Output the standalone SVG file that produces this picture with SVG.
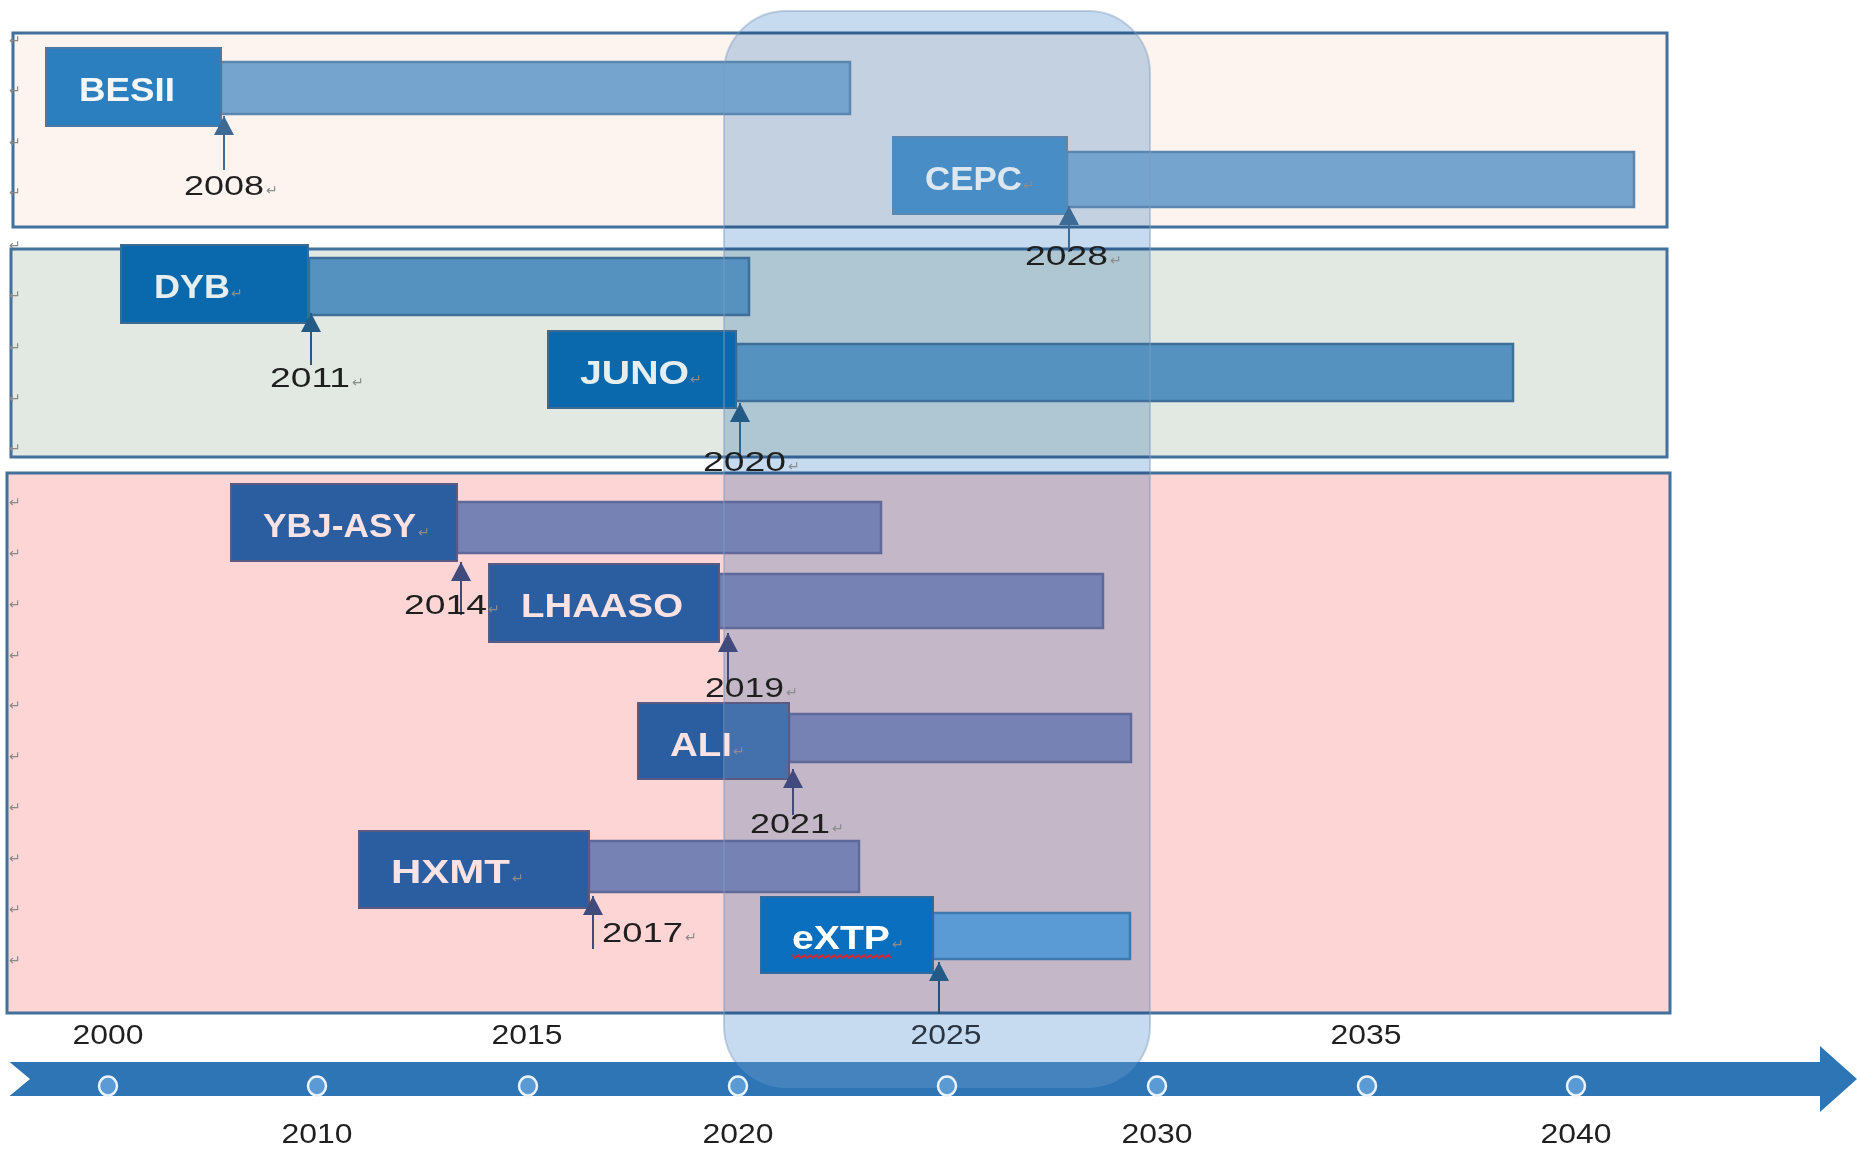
<svg xmlns="http://www.w3.org/2000/svg" width="1857" height="1149" viewBox="0 0 1857 1149">
<style>
.panel{stroke:#41719C;stroke-width:3}
.hl{fill:#C6DBEF;mix-blend-mode:multiply}
.bx{stroke-width:2}
.bar{stroke-width:2.5}
.lbl{font-family:"Liberation Sans",Arial,sans-serif;font-weight:bold;font-size:33px}
.yr{font-family:"Liberation Sans",Arial,sans-serif;font-size:28px;fill:#1F1F1F}
.pm{font-family:"DejaVu Sans",sans-serif;font-size:14px;fill:#8C8C8C}
.edge{font-family:"DejaVu Sans",sans-serif;font-size:14px;fill:#8A8A8A}
.conn{stroke-width:2;fill:none}
</style>
<defs>
<marker id="ahA" markerUnits="userSpaceOnUse" markerWidth="22" markerHeight="22" refX="19" refY="10" orient="auto"><path d="M0,0 L19,10 L0,20 Z" fill="#3D6B96"/></marker>
<marker id="ahB" markerUnits="userSpaceOnUse" markerWidth="22" markerHeight="22" refX="19" refY="10" orient="auto"><path d="M0,0 L19,10 L0,20 Z" fill="#235A86"/></marker>
<marker id="ahC" markerUnits="userSpaceOnUse" markerWidth="22" markerHeight="22" refX="19" refY="10" orient="auto"><path d="M0,0 L19,10 L0,20 Z" fill="#404A7C"/></marker>
<clipPath id="axisClip"><path d="M9.5,1062 L1820,1062 L1820,1046 L1857,1079 L1820,1112 L1820,1096 L9.5,1096 L30,1079 Z"/></clipPath>
</defs>
<rect width="1857" height="1149" fill="#FFFFFF"/>

<g id="panels">
<rect class="panel" x="13" y="33" width="1654" height="194" fill="#FDF4EF"/>
<rect class="panel" x="11" y="249" width="1656" height="208" fill="#E2E8E2"/>
<rect class="panel" x="7" y="473" width="1663" height="540" fill="#FDD5D5"/>
</g>

<rect id="highlight" class="hl" x="724" y="11" width="426" height="1077" rx="62" ry="62"/>

<g id="edge-marks">
<text class="edge" x="9" y="45">↵</text><text class="edge" x="9" y="95">↵</text><text class="edge" x="9" y="147">↵</text><text class="edge" x="9" y="197">↵</text>
<text class="edge" x="9" y="250">↵</text><text class="edge" x="9" y="300">↵</text><text class="edge" x="9" y="352">↵</text><text class="edge" x="9" y="403">↵</text><text class="edge" x="9" y="453">↵</text>
<text class="edge" x="9" y="507" fill="#9A6A6A">↵</text><text class="edge" x="9" y="558" fill="#9A6A6A">↵</text><text class="edge" x="9" y="609" fill="#9A6A6A">↵</text><text class="edge" x="9" y="660" fill="#9A6A6A">↵</text><text class="edge" x="9" y="710" fill="#9A6A6A">↵</text><text class="edge" x="9" y="761" fill="#9A6A6A">↵</text><text class="edge" x="9" y="812" fill="#9A6A6A">↵</text><text class="edge" x="9" y="863" fill="#9A6A6A">↵</text><text class="edge" x="9" y="914" fill="#9A6A6A">↵</text><text class="edge" x="9" y="965" fill="#9A6A6A">↵</text>
</g>

<g id="node-BESII">
<rect class="bar" x="221" y="62" width="629" height="52" fill="#75A4CF" stroke="#5B86B0"/>
<rect class="bx" x="46" y="48" width="175" height="78" fill="#2C7FBE" stroke="#4A78A8"/>
<text class="lbl" x="79" y="101" textLength="96" lengthAdjust="spacingAndGlyphs" fill="#F4F6F8">BESII</text>
</g>

<g id="node-CEPC">
<rect class="bar" x="1067" y="152" width="567" height="55" fill="#75A4CF" stroke="#5B86B0"/>
<rect class="bx" x="893" y="137" width="174" height="77" fill="#498DC7" stroke="#5C88B0"/>
<text class="lbl" x="925" y="190" textLength="97" lengthAdjust="spacingAndGlyphs" fill="#DCE7F0">CEPC</text>
<text class="pm" x="1023" y="190" fill="#9AB0C4">↵</text>
</g>

<g id="node-DYB">
<rect class="bar" x="309" y="258" width="440" height="57" fill="#5592C0" stroke="#3F6F98"/>
<rect class="bx" x="121" y="245" width="187" height="78" fill="#0A69AD" stroke="#3D6A90"/>
<text class="lbl" x="154" y="298" textLength="76" lengthAdjust="spacingAndGlyphs" fill="#E6EEF0">DYB</text>
<text class="pm" x="231" y="298" fill="#7A8E9E">↵</text>
</g>

<g id="node-JUNO">
<rect class="bar" x="736" y="344" width="777" height="57" fill="#5592C0" stroke="#3F6F98"/>
<rect class="bx" x="548" y="331" width="188" height="77" fill="#0A69AD" stroke="#3D6A90"/>
<text class="lbl" x="580" y="384" textLength="109" lengthAdjust="spacingAndGlyphs" fill="#E6EEF0">JUNO</text>
<text class="pm" x="690" y="384" fill="#7A8E9E">↵</text>
</g>

<g id="node-YBJ-ASY">
<rect class="bar" x="457" y="502" width="424" height="51" fill="#7582B3" stroke="#5F6A9A"/>
<rect class="bx" x="231" y="484" width="226" height="77" fill="#2B5EA0" stroke="#5A5A85"/>
<text class="lbl" x="263" y="537" textLength="153" lengthAdjust="spacingAndGlyphs" fill="#FCE2E2">YBJ-ASY</text>
<text class="pm" x="418" y="537" fill="#9A7A80">↵</text>
</g>

<g id="node-LHAASO">
<rect class="bar" x="719" y="574" width="384" height="54" fill="#7582B3" stroke="#5F6A9A"/>
<rect class="bx" x="489" y="564" width="230" height="78" fill="#2B5EA0" stroke="#5A5A85"/>
<text class="lbl" x="521" y="617" textLength="162" lengthAdjust="spacingAndGlyphs" fill="#FCE2E2">LHAASO</text>
</g>

<g id="node-ALI">
<rect class="bar" x="789" y="714" width="342" height="48" fill="#7582B3" stroke="#5F6A9A"/>
<rect class="bx" x="638" y="703" width="151" height="76" fill="#2B5EA0" stroke="#5A5A85"/>
<rect x="725" y="704" width="63" height="74" fill="#FFFFFF" opacity="0.12"/>
<text class="lbl" x="670" y="756" textLength="62" lengthAdjust="spacingAndGlyphs" fill="#FCE2E2">ALI</text>
<text class="pm" x="733" y="756" fill="#9A7A80">↵</text>
</g>

<g id="node-HXMT">
<rect class="bar" x="589" y="841" width="270" height="51" fill="#7582B3" stroke="#5F6A9A"/>
<rect class="bx" x="359" y="831" width="230" height="77" fill="#2B5EA0" stroke="#5A5A85"/>
<text class="lbl" x="391" y="883" textLength="119" lengthAdjust="spacingAndGlyphs" fill="#FCE2E2">HXMT</text>
<text class="pm" x="512" y="883" fill="#9A7A80">↵</text>
</g>

<g id="node-eXTP">
<rect class="bar" x="933" y="913" width="197" height="46" fill="#5B9BD5" stroke="#3F78AE"/>
<rect class="bx" x="761" y="897" width="172" height="76" fill="#0A6FBF" stroke="#2F6A9E"/>
<text class="lbl" x="792" y="949" textLength="98" lengthAdjust="spacingAndGlyphs" fill="#FFFFFF">eXTP</text>
<text class="pm" x="892" y="949" fill="#8CA6BE">↵</text>
<path d="M792,955 l3,3 l3,-3 l3,3 l3,-3 l3,3 l3,-3 l3,3 l3,-3 l3,3 l3,-3 l3,3 l3,-3 l3,3 l3,-3 l3,3 l3,-3 l3,3 l3,-3 l3,3 l3,-3 l3,3 l3,-3 l3,3 l3,-3 l3,3 l3,-3 l3,3 l3,-3 l3,3 l3,-3 l3,3 l3,-3 l3,3" fill="none" stroke="#D9262C" stroke-width="1.6"/>
</g>

<rect x="724" y="11" width="426" height="1077" rx="62" ry="62" fill="none" stroke="#7E9CC0" stroke-opacity="0.45" stroke-width="2"/>

<g id="axis">
<path d="M9.5,1062 L1820,1062 L1820,1046 L1857,1079 L1820,1112 L1820,1096 L9.5,1096 L30,1079 Z" fill="#2E75B6"/>
<rect x="724" y="11" width="426" height="1077" rx="62" ry="62" fill="#C2D9EE" opacity="0.15" clip-path="url(#axisClip)"/>
<g fill="#5B9BD5" stroke="#EAF2FA" stroke-width="2.5">
<ellipse cx="108" cy="1086" rx="9" ry="9.5"/><ellipse cx="317" cy="1086" rx="9" ry="9.5"/><ellipse cx="528" cy="1086" rx="9" ry="9.5"/><ellipse cx="738" cy="1086" rx="9" ry="9.5"/><ellipse cx="947" cy="1086" rx="9" ry="9.5"/><ellipse cx="1157" cy="1086" rx="9" ry="9.5"/><ellipse cx="1367" cy="1086" rx="9" ry="9.5"/><ellipse cx="1576" cy="1086" rx="9" ry="9.5"/>
</g>
<g class="yr" text-anchor="middle">
<text x="108" y="1044" textLength="71" lengthAdjust="spacingAndGlyphs">2000</text>
<text x="527" y="1044" textLength="71" lengthAdjust="spacingAndGlyphs">2015</text>
<text x="946" y="1044" textLength="71" lengthAdjust="spacingAndGlyphs" fill="#2A3442">2025</text>
<text x="1366" y="1044" textLength="71" lengthAdjust="spacingAndGlyphs">2035</text>
<text x="317" y="1143" textLength="71" lengthAdjust="spacingAndGlyphs">2010</text>
<text x="738" y="1143" textLength="71" lengthAdjust="spacingAndGlyphs">2020</text>
<text x="1157" y="1143" textLength="71" lengthAdjust="spacingAndGlyphs">2030</text>
<text x="1576" y="1143" textLength="71" lengthAdjust="spacingAndGlyphs">2040</text>
</g>
</g>

<g id="connectors">
<line class="conn" x1="224" y1="170" x2="224" y2="116" stroke="#3D6B96" marker-end="url(#ahA)"/>
<line class="conn" x1="1069" y1="252" x2="1069" y2="206" stroke="#3D6B96" marker-end="url(#ahA)"/>
<line class="conn" x1="311" y1="365" x2="311" y2="313" stroke="#235A86" marker-end="url(#ahB)"/>
<line class="conn" x1="740" y1="456" x2="740" y2="403" stroke="#2F6690" marker-end="url(#ahB)"/>
<line class="conn" x1="461" y1="615" x2="461" y2="562" stroke="#404A7C" marker-end="url(#ahC)"/>
<line class="conn" x1="728" y1="685" x2="728" y2="633" stroke="#404A7C" marker-end="url(#ahC)"/>
<line class="conn" x1="793" y1="815" x2="793" y2="769" stroke="#404A7C" marker-end="url(#ahC)"/>
<line class="conn" x1="593" y1="949" x2="593" y2="896" stroke="#404A7C" marker-end="url(#ahC)"/>
<line class="conn" x1="939" y1="1014" x2="939" y2="962" stroke="#2A4F7A" marker-end="url(#ahB)"/>
</g>

<g id="year-labels">
<text class="yr" x="184" y="195" textLength="80" lengthAdjust="spacingAndGlyphs">2008</text><text class="pm" x="266" y="195">↵</text>
<text class="yr" x="1025" y="265" textLength="83" lengthAdjust="spacingAndGlyphs" fill="#25303A">2028</text><text class="pm" x="1110" y="265">↵</text>
<text class="yr" x="270" y="387" textLength="80" lengthAdjust="spacingAndGlyphs">2011</text><text class="pm" x="352" y="387">↵</text>
<text class="yr" x="703" y="471" textLength="83" lengthAdjust="spacingAndGlyphs">2020</text><text class="pm" x="788" y="471">↵</text>
<text class="yr" x="404" y="614" textLength="83" lengthAdjust="spacingAndGlyphs" fill="#2B1717">2014</text><text class="pm" x="488" y="614" fill="#9A7A80">↵</text>
<text class="yr" x="705" y="697" textLength="79" lengthAdjust="spacingAndGlyphs" fill="#2B1A24">2019</text><text class="pm" x="786" y="697" fill="#9A7A80">↵</text>
<text class="yr" x="750" y="833" textLength="80" lengthAdjust="spacingAndGlyphs" fill="#2E2436">2021</text><text class="pm" x="832" y="833" fill="#9A7A80">↵</text>
<text class="yr" x="602" y="942" textLength="81" lengthAdjust="spacingAndGlyphs" fill="#2B1717">2017</text><text class="pm" x="685" y="942" fill="#9A7A80">↵</text>
</g>
</svg>
